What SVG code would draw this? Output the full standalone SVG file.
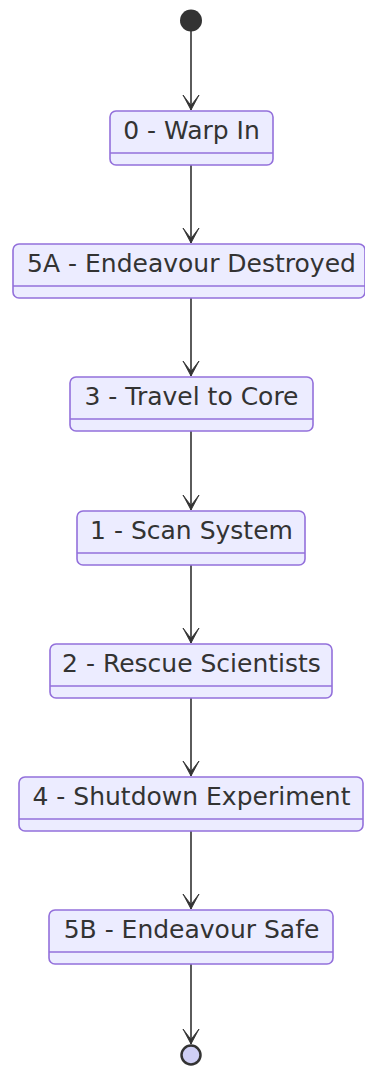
<svg xmlns="http://www.w3.org/2000/svg" width="365" height="1067" viewBox="0 0 365 1067">
<defs>
<style>
.box{fill:#ECECFF;stroke:#9370DB;stroke-width:1.6}
.div{stroke:#9370DB;stroke-width:1.6}
.lbl{font-family:"DejaVu Sans",sans-serif;font-size:25px;fill:#333;text-anchor:middle}
.edge{stroke:#333;stroke-width:1.6;fill:none}
</style>
<marker id="arr" viewBox="0 0 16 18" refX="15.5" refY="9" markerWidth="16" markerHeight="18" markerUnits="userSpaceOnUse" orient="auto">
<path d="M15.5,9 L0.5,17 L11,9 L0.5,1 Z" fill="#333" stroke="#333" stroke-width="0.9" stroke-linejoin="miter"/>
</marker>
</defs>
<g id="connectors">
<line class="edge" x1="191" y1="31" x2="191" y2="110" marker-end="url(#arr)"/>
<line class="edge" x1="191" y1="165" x2="191" y2="243" marker-end="url(#arr)"/>
<line class="edge" x1="191" y1="298" x2="191" y2="376" marker-end="url(#arr)"/>
<line class="edge" x1="191" y1="431" x2="191" y2="510" marker-end="url(#arr)"/>
<line class="edge" x1="191" y1="565" x2="191" y2="643" marker-end="url(#arr)"/>
<line class="edge" x1="191" y1="698" x2="191" y2="776" marker-end="url(#arr)"/>
<line class="edge" x1="191" y1="831" x2="191" y2="909" marker-end="url(#arr)"/>
<line class="edge" x1="191" y1="964" x2="191" y2="1044" marker-end="url(#arr)"/>
</g>
<g id="start"><circle cx="191" cy="20.5" r="11" fill="#333"/></g>
<g id="s0"><rect class="box" x="110" y="111" width="163" height="54" rx="6"/><line class="div" x1="110" y1="153" x2="273" y2="153"/><text class="lbl" x="191.5" y="139">0 - Warp In</text></g>
<g id="s5A"><rect class="box" x="13" y="244" width="352" height="54" rx="6"/><line class="div" x1="13" y1="286" x2="365" y2="286"/><text class="lbl" x="191.5" y="272">5A - Endeavour Destroyed</text></g>
<g id="s3"><rect class="box" x="70" y="377" width="243" height="54" rx="6"/><line class="div" x1="70" y1="419" x2="313" y2="419"/><text class="lbl" x="191.5" y="405">3 - Travel to Core</text></g>
<g id="s1"><rect class="box" x="77" y="511" width="228" height="54" rx="6"/><line class="div" x1="77" y1="553" x2="305" y2="553"/><text class="lbl" x="191.5" y="539">1 - Scan System</text></g>
<g id="s2"><rect class="box" x="50" y="644" width="282" height="54" rx="6"/><line class="div" x1="50" y1="686" x2="332" y2="686"/><text class="lbl" x="191.5" y="672">2 - Rescue Scientists</text></g>
<g id="s4"><rect class="box" x="19" y="777" width="344" height="54" rx="6"/><line class="div" x1="19" y1="819" x2="363" y2="819"/><text class="lbl" x="191.5" y="805">4 - Shutdown Experiment</text></g>
<g id="s5B"><rect class="box" x="49" y="910" width="284" height="54" rx="6"/><line class="div" x1="49" y1="952" x2="333" y2="952"/><text class="lbl" x="191.5" y="938">5B - Endeavour Safe</text></g>
<g id="end"><circle cx="191" cy="1055" r="9.5" fill="#CFCFF5" stroke="#333" stroke-width="2.5"/></g>
</svg>
